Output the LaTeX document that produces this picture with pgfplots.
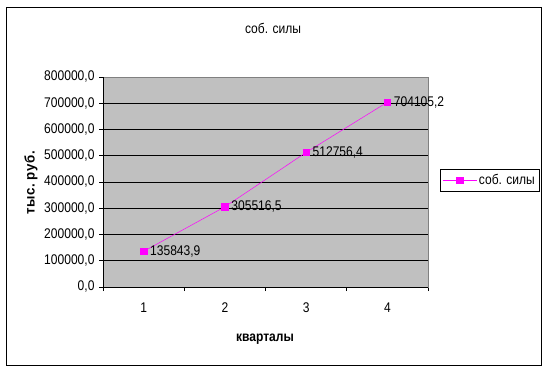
\documentclass[border=0pt]{standalone}
\usepackage{pgfplots}
\pgfplotsset{compat=1.18}
\usepackage{fontspec}
\setmainfont[FakeStretch=0.86]{Liberation Sans}
\newfontfamily\ylabfont[FakeStretch=0.95, LetterSpace=4, WordSpace=0.6]{Liberation Sans}
\definecolor{plotgray}{HTML}{C0C0C0}
\definecolor{mag}{HTML}{FF00FF}
\newcommand{\fs}{\fontsize{14}{16}\selectfont}
\begin{document}
\begin{tikzpicture}[x=1pt,y=1pt, font=\fs]
\path (0,0) rectangle (549,-375);
\draw[black, line width=0.9pt] (6,-7) rectangle (541,-365);
\begin{axis}[at={(103pt,-287pt)}, anchor=south west, scale only axis,
  width=325pt, height=210pt,
  xmin=0.5, xmax=4.5, ymin=0, ymax=800000,
  xtick={0.5,1.5,2.5,3.5,4.5}, x tick label as interval, xticklabels={1,2,3,4},
  ytick={0,100000,200000,300000,400000,500000,600000,700000,800000},
  scaled y ticks=false,
  yticklabel style={xshift=-1pt, /pgf/number format/.cd, fixed, fixed zerofill, precision=1, use comma, 1000 sep={}},
  /pgf/number format/assume math mode=true,
  xtick pos=bottom, ytick pos=left, tick align=outside,
  major tick length=4pt, tick style={black, line width=0.6pt},
  ymajorgrids, grid style={black, line width=0.7pt},
  axis background/.style={fill=plotgray},
  axis line style={draw=gray, line width=0.6pt},
  ticklabel style={font=\fs},
  xticklabel style={yshift=-8pt},
  legend style={at={(1.037,0.562)}, anchor=north west, draw=black, fill=white, line width=0.8pt,
    font=\fs, inner xsep=2pt, inner ysep=3pt},
  legend image code/.code={\draw[mark repeat=2,mark phase=2] plot coordinates {(0pt,0pt)(17pt,0pt)(34pt,0pt)};},
]
\addplot[mag, line width=0.5pt, mark=square*, mark size=3.2pt, mark options={solid, fill=mag},
  nodes near coords, point meta=explicit symbolic,
  every node near coord/.style={anchor=west, black, xshift=3pt, font=\fs}]
  table[meta=label] {
x y label
1 135843.9 135843,9
2 305516.5 305516,5
3 512756.4 512756,4
4 704105.2 704105,2
};
\addlegendentry{соб. силы}
\draw[black, line width=0.7pt] (rel axis cs:0,1) -- (rel axis cs:0,0) -- (rel axis cs:1,0);
\end{axis}
\node at (273,-28) {соб. силы};
\node[rotate=90, font=\ylabfont\fs\bfseries] at (31,-183) {тыс. руб.};
\node[font=\fs\bfseries] at (265,-339) {кварталы};
\end{tikzpicture}
\end{document}
